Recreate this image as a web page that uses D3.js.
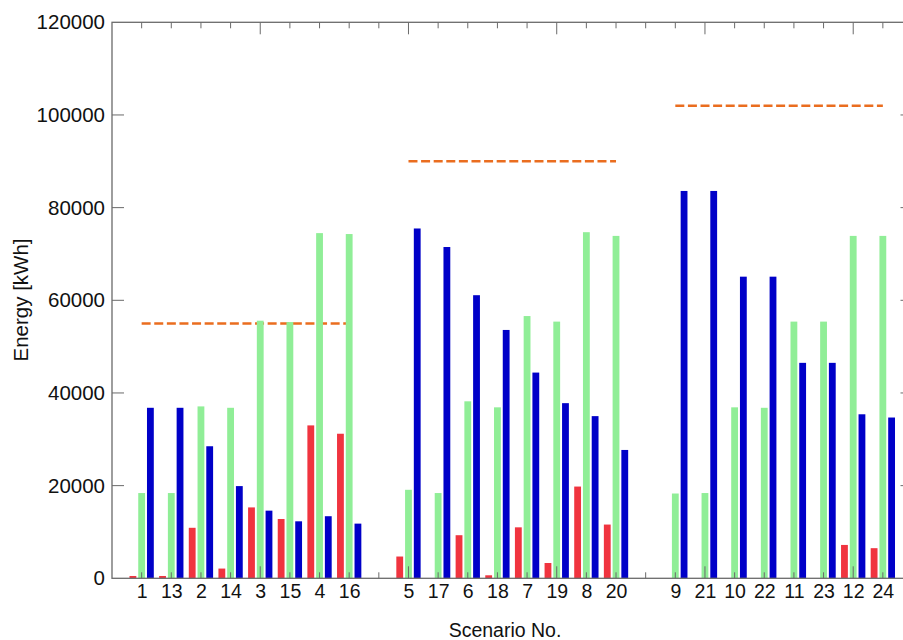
<!DOCTYPE html>
<html>
<head>
<meta charset="utf-8">
<script src="https://cdn.jsdelivr.net/npm/d3@7"></script>
<style>
html,body{margin:0;padding:0;background:#fff;}
svg{display:block;}
text{font-family:"Liberation Sans",Arial,sans-serif;fill:#111;}
</style>
</head>
<body>
<svg id="chart" width="903" height="640"></svg>
<script>
// ---- data ----
const groups = [
  ["1","13","2","14","3","15","4","16"],
  ["5","17","6","18","7","19","8","20"],
  ["9","21","10","22","11","23","12","24"]
];
const redValues = [
  500, 500, 10900, 2100, 15300, 12800, 33000, 31200,
  4700, 0, 9300, 650, 11000, 3300, 19800, 11600,
  0, 0, 0, 0, 0, 0, 7200, 6500
];
const greenValues = [
  18400, 18400, 37100, 36800, 55600, 55300, 74500, 74300,
  19100, 18400, 38200, 36900, 56600, 55400, 74700, 73900,
  18300, 18400, 36900, 36800, 55400, 55400, 73900, 73900
];
const blueValues = [
  36800, 36800, 28500, 19900, 14600, 12300, 13400, 11800,
  75500, 71500, 61100, 53600, 44400, 37800, 35000, 27700,
  83600, 83600, 65100, 65100, 46500, 46500, 35400, 34700
];
const limitValues = [55000, 90000, 102000];
const yTicks = [0, 20000, 40000, 60000, 80000, 100000, 120000];

// ---- layout ----
const svg = d3.select("#chart");
const x = d3.scaleLinear().domain([0, 27]).range([112, 912.5]);
const y = d3.scaleLinear().domain([0, 120000]).range([578.3, 22.3]);

// flatten categories with their numeric slot (one empty slot between groups)
const cats = [];
groups.forEach((g, gi) => g.forEach((label, i) => {
  cats.push({label, pos: gi * (g.length + 1) + i + 1, group: gi});
}));
const rows = cats.map((c, k) => ({...c, red: redValues[k], green: greenValues[k], blue: blueValues[k]}));

const axisColor = "#6a6a6a";
const off = 0.295, bw = 0.23;

// limit dashed lines (behind bars)
const limits = groups.map((g, gi) => {
  const gc = cats.filter(c => c.group === gi);
  return {x0: gc[0].pos, x1: gc[gc.length - 1].pos, v: limitValues[gi]};
});
svg.append("g").selectAll("line").data(limits).join("line")
  .attr("x1", d => x(d.x0)).attr("x2", d => x(d.x1))
  .attr("y1", d => y(d.v)).attr("y2", d => y(d.v))
  .attr("stroke", "#ea6d1f").attr("stroke-width", 2.4)
  .attr("stroke-dasharray", "9,3.6");

// bars
const series = [
  {key: "red", color: "#f0343f", dx: -off},
  {key: "green", color: "#90ee97", dx: 0},
  {key: "blue", color: "#0000c8", dx: off}
];
series.forEach(s => {
  svg.append("g").selectAll("rect").data(rows.filter(r => r[s.key] > 0)).join("rect")
    .attr("x", d => x(d.pos + s.dx - bw / 2))
    .attr("width", x(bw) - x(0))
    .attr("y", d => y(d[s.key]))
    .attr("height", d => y(0) - y(d[s.key]))
    .attr("fill", s.color);
});

// axes
const allPos = d3.range(0, 28);
const tickLen = p => (p % 5 === 0 ? 12 : 6);

// bottom axis
const bottom = d3.axisBottom(x).tickValues(cats.map(c => c.pos))
  .tickFormat((d, i) => cats[i].label).tickSize(0).tickPadding(6);
const gB = svg.append("g").attr("transform", `translate(0,${y(0)})`).call(bottom);
gB.select(".domain").remove();
gB.selectAll("text").attr("font-size", 19.5).attr("fill", "#111");

// tick marks (inward) on bottom and top
const tg = svg.append("g").attr("stroke", axisColor).attr("stroke-width", 1);
tg.selectAll("line.b").data(allPos.filter(p => p > 0)).join("line").attr("class", "b")
  .attr("x1", d => x(d)).attr("x2", d => x(d))
  .attr("y1", y(0)).attr("y2", d => y(0) - tickLen(d));
tg.selectAll("line.t").data(allPos.filter(p => p > 0)).join("line").attr("class", "t")
  .attr("x1", d => x(d)).attr("x2", d => x(d))
  .attr("y1", y(120000)).attr("y2", d => y(120000) + tickLen(d));

// left axis
const left = d3.axisLeft(y).tickValues(yTicks).tickFormat(d3.format("d"))
  .tickSize(0).tickPadding(7);
const gL = svg.append("g").attr("transform", `translate(${x(0)},0)`).call(left);
gL.select(".domain").remove();
gL.selectAll("text").attr("font-size", 20.5).attr("fill", "#111");
tg.selectAll("line.l").data(yTicks.slice(1, -1)).join("line").attr("class", "l")
  .attr("x1", x(0)).attr("x2", x(0) + 12)
  .attr("y1", d => y(d)).attr("y2", d => y(d));
tg.selectAll("line.r").data(yTicks.slice(1, -1)).join("line").attr("class", "r")
  .attr("x1", x(27)).attr("x2", x(27) - 12)
  .attr("y1", d => y(d)).attr("y2", d => y(d));

// frame
svg.append("rect")
  .attr("x", x(0)).attr("y", y(120000))
  .attr("width", x(27) - x(0)).attr("height", y(0) - y(120000))
  .attr("fill", "none").attr("stroke", axisColor).attr("stroke-width", 1.3);

// axis titles
svg.append("text").attr("x", 505).attr("y", 637).attr("text-anchor", "middle")
  .attr("font-size", 19.5).text("Scenario No.");
svg.append("text").attr("transform", "translate(28,300) rotate(-90)")
  .attr("text-anchor", "middle").attr("font-size", 20.5).text("Energy [kWh]");
</script>
</body>
</html>
